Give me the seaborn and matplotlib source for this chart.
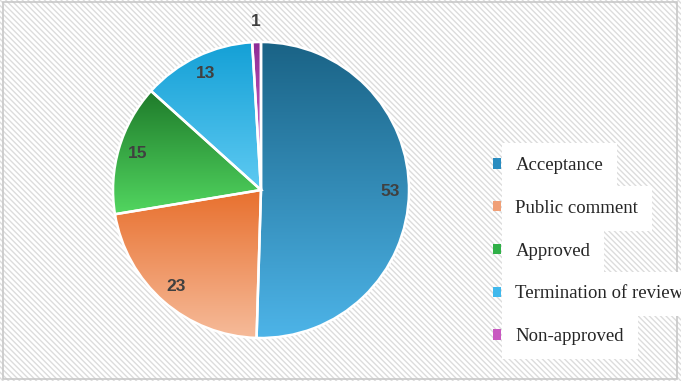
import numpy as np
import matplotlib.pyplot as plt
import matplotlib as mpl
import seaborn as sns
from matplotlib.patches import Rectangle, Patch
from matplotlib.colors import LinearSegmentedColormap

sns.set_style("white")
plt.rcParams["font.family"] = ["Liberation Sans", "DejaVu Sans"]
plt.rcParams["hatch.linewidth"] = 1.0

# Datos del gráfico
categorias = ["Acceptance", "Public comment", "Approved",
              "Termination of review", "Non-approved"]
valores = [53, 23, 15, 13, 1]

# Colores degradados (arriba, abajo) y color de la leyenda
color_arriba = ["#1a6386", "#e8702e", "#1e7a2a", "#14a0d6", "#8e2c96"]
color_abajo = ["#4db4e8", "#f6bb9a", "#52d660", "#5ecaf2", "#e272d4"]
color_leyenda = ["#2a8cc0", "#f0a078", "#30b048", "#40b8ec", "#c858c0"]

fig = plt.figure(figsize=(6.81, 3.81), dpi=100)

# Fondo rayado con borde gris
fondo = Rectangle((0, 0), 1, 1, transform=fig.transFigure, facecolor="white",
                  edgecolor="#dcdcdc", hatch="\\\\\\\\\\\\", linewidth=0,
                  zorder=-10)
fig.patches.append(fondo)
borde = Rectangle((0.004, 0.006), 0.99, 0.988, transform=fig.transFigure,
                  facecolor="none", edgecolor="#c8c8c8", linewidth=1.2,
                  zorder=-9)
fig.patches.append(borde)

# Ejes de la torta: centro (261,190) px, radio 147 px
W, H = 681, 381
cx, cy, r = 261, 190, 148
ax = fig.add_axes([(cx - r) / W, (H - cy - r) / H, 2 * r / W, 2 * r / H])
ax.set_facecolor("none")

wedges, textos = ax.pie(valores, startangle=90, counterclock=False,
                        labels=[str(v) for v in valores], labeldistance=0.87,
                        wedgeprops=dict(edgecolor="white", linewidth=1.8,
                                        facecolor="none"),
                        textprops=dict(color="#404040", fontsize=12.5,
                                       fontweight="bold"))
for t in textos:
    t.set_ha("center")
    t.set_va("center")

# El valor 1 va afuera de la torta
th = np.deg2rad((wedges[-1].theta1 + wedges[-1].theta2) / 2)
textos[-1].set_position((1.14 * np.cos(th), 1.14 * np.sin(th)))

# Degradado vertical en cada porción (oscuro arriba, claro abajo)
grad = np.linspace(0, 1, 256).reshape(-1, 1)
for w, c1, c2 in zip(wedges, color_arriba, color_abajo):
    ext = w.get_path().get_extents()
    cmap = LinearSegmentedColormap.from_list("g", [c1, c2])
    im = ax.imshow(grad, cmap=cmap, aspect="auto",
                   extent=[ext.x0, ext.x1, ext.y0, ext.y1], origin="upper",
                   zorder=0.5)
    im.set_clip_path(w)
    w.set_zorder(1)

ax.set_xlim(-1.0, 1.0)
ax.set_ylim(-1.0, 1.0)
ax.axis("off")

# Leyenda con cajas blancas
handles = [Patch(facecolor=c, edgecolor="none") for c in color_leyenda]
leg = fig.legend(handles, categorias, loc="upper left",
                 bbox_to_anchor=(476 / W, 1 - 140 / H), frameon=False,
                 prop=dict(family="Liberation Serif", size=13.5),
                 handlelength=0.45, handleheight=0.5, handletextpad=0.75,
                 labelspacing=1.38)
for t in leg.get_texts():
    t.set_bbox(dict(facecolor="white", edgecolor="none", pad=10))

plt.savefig("out.png", dpi=100)
